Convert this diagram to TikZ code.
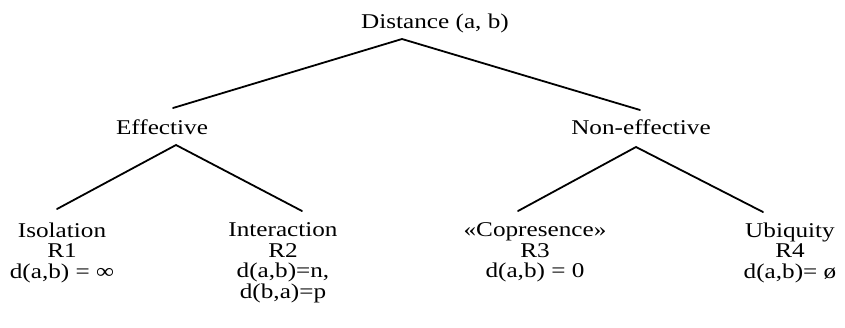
\documentclass[tikz,border=0pt]{standalone}
\usepackage{fontspec}
\setmainfont{Liberation Serif}[FakeStretch=1.2]
\begin{document}
\begin{tikzpicture}[x=1pt,y=-1pt,
  lbl/.style={inner sep=0pt,font=\fontsize{21}{20.6}\selectfont},
  leaf/.style={lbl,align=center,anchor=north},
  branch/.style={line width=1.8pt,line cap=round,line join=miter}]
\useasboundingbox (0,0) rectangle (845,327);
% labels
\node[lbl,anchor=base] (root) at (435,28) {Distance (a, b)};
\node[lbl,anchor=base] (eff) at (162,134) {Effective};
\node[lbl,anchor=base] (neff) at (641,134) {Non-effective};
\node[leaf] (iso) at (62,222.5) {Isolation\\R1\\d(a,b) = ∞};
\node[leaf] (inter) at (283,222.5) {Interaction\\R2\\d(a,b)=n,\\d(b,a)=p};
\node[leaf] (copr) at (535,222.5) {«Copresence»\\R3\\d(a,b) = 0};
\node[leaf] (ubi) at (790,222.5) {Ubiquity\\R4\\d(a,b)= ø};
% connector end points
\coordinate (rootTip) at (402,39);
\coordinate (effTop) at (173,108);
\coordinate (neffTop) at (640,110);
\coordinate (effTip) at (176,145);
\coordinate (isoTop) at (57,209);
\coordinate (interTop) at (302,211);
\coordinate (neffTip) at (636,147);
\coordinate (coprTop) at (518,211);
\coordinate (ubiTop) at (763,212);
% connectors
\draw[branch] (effTop) -- (rootTip) -- (neffTop);
\draw[branch] (isoTop) -- (effTip) -- (interTop);
\draw[branch] (coprTop) -- (neffTip) -- (ubiTop);
\end{tikzpicture}
\end{document}
